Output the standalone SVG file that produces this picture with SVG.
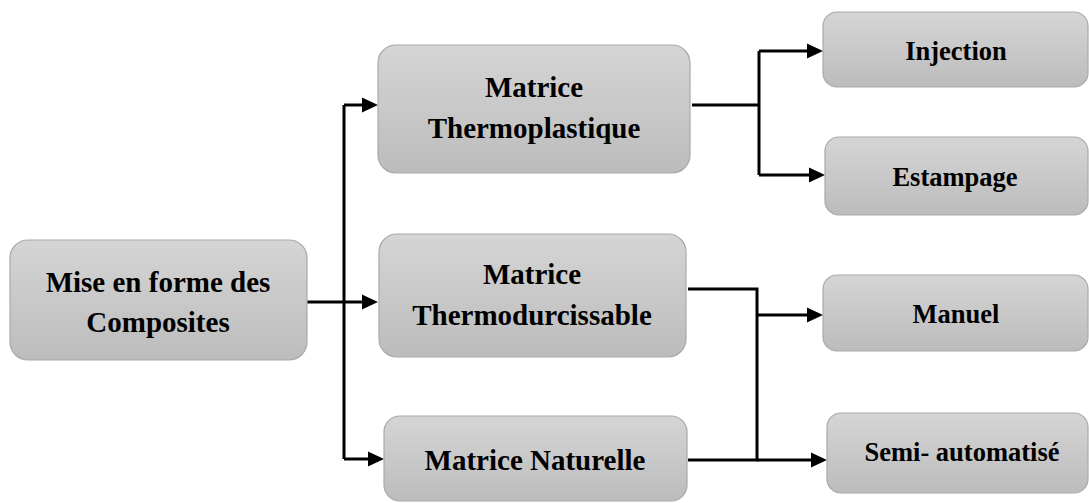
<svg xmlns="http://www.w3.org/2000/svg" width="1089" height="503" viewBox="0 0 1089 503">
<defs>
<linearGradient id="g" x1="0" y1="0" x2="0" y2="1">
<stop offset="0" stop-color="#d5d5d5"/>
<stop offset="1" stop-color="#bcbcbc"/>
</linearGradient>
<path id="ah" d="M-16,-7.5 L0,0 L-16,7.5 Z" fill="#000"/>
<style>
.box{fill:url(#g);stroke:#a9a9a9;stroke-width:1.2}
.t{font-family:'Liberation Serif','Times New Roman',serif;font-weight:bold;fill:#000;text-anchor:middle}
.big{font-size:29px}
.small{font-size:26.5px}
.c{fill:none;stroke:#000;stroke-width:3}
</style>
</defs>
<g id="connectors">
<path class="c" d="M307,302 H344"/>
<path class="c" d="M344,105 V459"/>
<path class="c" d="M344,302 H364"/>
<path class="c" d="M344,105 H364"/>
<path class="c" d="M344,459 H370"/>
<path class="c" d="M692,105 H759"/>
<path class="c" d="M759,51 V175"/>
<path class="c" d="M759,51 H809"/>
<path class="c" d="M759,175 H811"/>
<path class="c" d="M688,289 H757 V460 H688"/>
<path class="c" d="M757,315 H809"/>
<path class="c" d="M757,460 H813"/>
<use href="#ah" x="378" y="302"/>
<use href="#ah" x="378" y="105"/>
<use href="#ah" x="384" y="459"/>
<use href="#ah" x="823" y="51"/>
<use href="#ah" x="825" y="175"/>
<use href="#ah" x="823" y="315"/>
<use href="#ah" x="827" y="460"/>
</g>
<g id="root">
<rect class="box" x="10" y="240" width="297" height="120" rx="18"/>
<text class="t big" x="158" y="292">Mise en forme des</text>
<text class="t big" x="158" y="332">Composites</text>
</g>
<g id="thermoplastique">
<rect class="box" x="378" y="45" width="312" height="128" rx="18"/>
<text class="t big" x="534" y="97">Matrice</text>
<text class="t big" x="534" y="138">Thermoplastique</text>
</g>
<g id="thermodurcissable">
<rect class="box" x="379" y="234" width="307" height="123" rx="18"/>
<text class="t big" x="532" y="284">Matrice</text>
<text class="t big" x="532" y="325">Thermodurcissable</text>
</g>
<g id="naturelle">
<rect class="box" x="384" y="416" width="303" height="85" rx="16"/>
<text class="t big" x="535" y="470">Matrice Naturelle</text>
</g>
<g id="injection">
<rect class="box" x="823" y="12" width="265" height="75" rx="14"/>
<text class="t small" x="956" y="60">Injection</text>
</g>
<g id="estampage">
<rect class="box" x="825" y="137" width="263" height="78" rx="14"/>
<text class="t small" x="955" y="186">Estampage</text>
</g>
<g id="manuel">
<rect class="box" x="823" y="275" width="265" height="76" rx="14"/>
<text class="t small" x="956" y="323">Manuel</text>
</g>
<g id="semi">
<rect class="box" x="827" y="413" width="261" height="80" rx="14"/>
<text class="t small" x="962" y="461">Semi- automatisé</text>
</g>
</svg>
